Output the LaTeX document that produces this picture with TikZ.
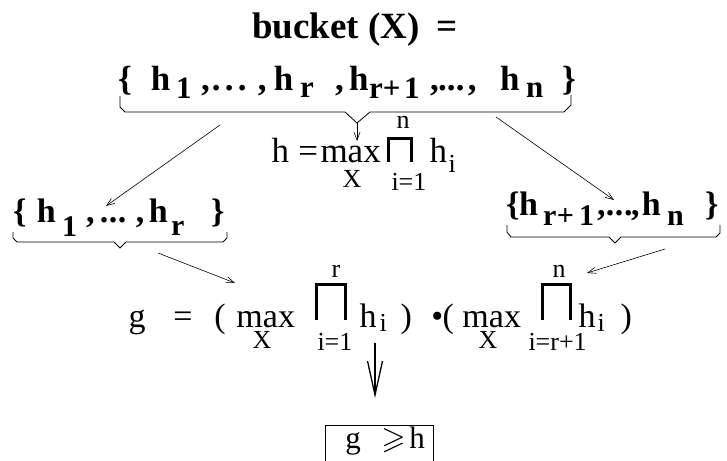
\documentclass[tikz,border=0pt]{standalone}
\usepackage{fontspec}
\setmainfont{Liberation Serif}
\usepackage{amssymb}
\usepackage{graphicx}
\usetikzlibrary{arrows.meta}
\newcommand\fsz[1]{\fontsize{#1}{#1}\selectfont}
% token at absolute image position (x, baseline y), size, content
\newcommand\tk[4]{\makebox[0pt][l]{\hspace*{\dimexpr #1pt-\ox pt\relax}\raisebox{\dimexpr \oy pt-#2pt\relax}{\fsz{#3}#4}}\ignorespaces}
\tikzset{
  txt/.style={anchor=base west, inner sep=0pt, outer sep=0pt},
  arr/.style={-{Straight Barb[length=8pt,width=6pt]}, line width=0.6pt},
  bigarr/.style={-{Straight Barb[length=34pt,width=15pt,line width=1.3pt]}, line width=1.3pt},
  brace/.style={line width=0.8pt, line join=miter},
  prodsym/.style={line width=3pt, line cap=butt, line join=miter},
}
\begin{document}
\begin{tikzpicture}[x=1pt,y=-1pt]
\useasboundingbox (0,0) rectangle (727,460);
% title
\node[txt] (title) at (252,38) {\def\ox{252}\def\oy{38}\bfseries
  \tk{252}{38}{37}{bucket (X)}
  \tk{437}{38}{37}{=}
  \hspace*{210pt}};
% top set
\node[txt] (topset) at (118,90) {\def\ox{118}\def\oy{90}\bfseries
  \tk{118}{90}{35}{\{}
  \tk{151}{90}{35}{h}
  \tk{176}{98}{31}{1}
  \tk{201}{90}{35}{,}
  \tk{212}{90}{35}{.}\tk{225}{90}{35}{.}\tk{238}{90}{35}{.}
  \tk{258}{90}{35}{,}
  \tk{274}{90}{35}{h}
  \tk{300}{97}{31}{r}
  \tk{335}{90}{35}{,}
  \tk{349}{90}{35}{h}
  \tk{369}{98}{31}{r}\tk{383}{98}{31}{+}\tk{404}{98}{31}{1}
  \tk{430}{90}{35}{,}
  \tk{438}{90}{35}{.}\tk{447}{90}{35}{.}\tk{456}{90}{35}{.}
  \tk{468}{90}{35}{,}
  \tk{500}{90}{35}{h}
  \tk{526}{97}{31}{n}
  \tk{562}{90}{35}{\}}
  \hspace*{460pt}};
% top brace
\draw[brace] (120,96) -- (120,107) -- (125,112) -- (345,112) -- (357,123) coordinate (toptip)
  -- (370,112) -- (564,112) -- (571,105) -- (571,95);
% h formula
\node[txt] (hform) at (269,162) {\def\ox{269}\def\oy{162}
  \tk{269}{162}{35}{h}
  \tk{296}{162}{35}{=}
  \tk{318}{162}{35}{max}
  \tk{394}{128}{26}{n}
  \tk{427}{162}{35}{h}
  \tk{446}{172}{26}{i}
  \tk{340}{187}{26}{X}
  \tk{389}{190}{26}{i=1}
  \hspace*{185pt}};
\draw[prodsym,line width=2.6pt] (388.3,162) -- (388.3,138.3) -- (411.7,138.3) -- (411.7,162);
% left set
\node[txt] (lset) at (13,222) {\def\ox{13}\def\oy{222}\bfseries
  \tk{13}{222}{34}{\{}
  \tk{37}{222}{34}{h}
  \tk{62}{236}{30}{1}
  \tk{86}{222}{34}{,}
  \tk{100}{222}{34}{.}\tk{109}{222}{34}{.}\tk{118}{222}{34}{.}
  \tk{136}{222}{34}{,}
  \tk{149}{222}{34}{h}
  \tk{171}{235}{30}{r}
  \tk{211}{222}{34}{\}}
  \hspace*{214pt}};
\draw[brace] (13,232) -- (13,238) -- (17,242) -- (114,242) -- (120,248) coordinate (ltip)
  -- (126,242) -- (223,242) -- (227,238) -- (227,232);
% right set
\node[txt] (rset) at (506,215) {\def\ox{506}\def\oy{215}\bfseries
  \tk{506}{215}{34}{\{}
  \tk{519}{215}{34}{h}
  \tk{543}{225}{30}{r}\tk{557}{225}{30}{+}\tk{579}{225}{30}{1}
  \tk{597}{215}{34}{,}
  \tk{606}{215}{34}{.}\tk{615}{215}{34}{.}\tk{624}{215}{34}{.}
  \tk{631}{215}{34}{,}
  \tk{642}{215}{34}{h}
  \tk{667}{225}{30}{n}
  \tk{705}{215}{34}{\}}
  \hspace*{216pt}};
\draw[brace] (507,225) -- (507,232) -- (511,237) -- (609,237) -- (615,243) coordinate (rtip)
  -- (621,237) -- (716,237) -- (720,233) -- (720,225);
% g formula
\node[txt] (gform) at (126,327) {\def\ox{126}\def\oy{327}
  \tk{126}{327}{34}{g}
  \tk{171}{327}{34}{=}
  \tk{212}{327}{34}{(}
  \tk{234}{327}{34}{max}
  \tk{329}{277}{26}{r}
  \tk{357}{327}{34}{h}
  \tk{377}{331}{26}{i}
  \tk{398}{327}{34}{)}
  \tk{429}{327}{34}{•}
  \tk{440}{327}{34}{(}
  \tk{460}{327}{34}{max}
  \tk{550}{277}{26}{n}
  \tk{576}{327}{34}{h}
  \tk{595}{331}{26}{i}
  \tk{618}{327}{34}{)}
  \tk{250}{348}{26}{X}
  \tk{315}{350}{26}{i=1}
  \tk{476}{348}{26}{X}
  \tk{526}{350}{26}{i=r+1}
  \hspace*{505pt}};
\draw[prodsym] (316.6,320) -- (316.6,284.6) -- (345.4,284.6) -- (345.4,320);
\draw[prodsym] (542.6,320) -- (542.6,284.6) -- (570.4,284.6) -- (570.4,320);
% result box
\node[draw, line width=0.8pt, anchor=north west, inner sep=0pt, text width=108pt,
      text height=23pt, text depth=22pt] (res) at (325,425) {\noindent\def\ox{325}\def\oy{448}%
  \tk{345}{448}{31}{g}
  \tk{381}{448}{31}{\scalebox{1.3}{\fsz{24}$\geqslant$}}
  \tk{409}{448}{31}{h}};
% connectors
\coordinate (hin) at (357,141);
\coordinate (a1s) at (220,125);
\coordinate (a1e) at (106,206);
\coordinate (a2s) at (496,117);
\coordinate (a2e) at (614,200);
\coordinate (a3s) at (158,253);
\coordinate (a3e) at (235,283);
\coordinate (a4s) at (665,249);
\coordinate (a4e) at (587,273);
\coordinate (dns) at (375,343);
\coordinate (dne) at (375,398);
\draw[arr] (toptip) -- (hin);
\draw[arr] (a1s) -- (a1e);
\draw[arr] (a2s) -- (a2e);
\draw[arr] (a3s) -- (a3e);
\draw[arr] (a4s) -- (a4e);
\draw[bigarr] (dns) -- (dne);
\end{tikzpicture}
\end{document}
